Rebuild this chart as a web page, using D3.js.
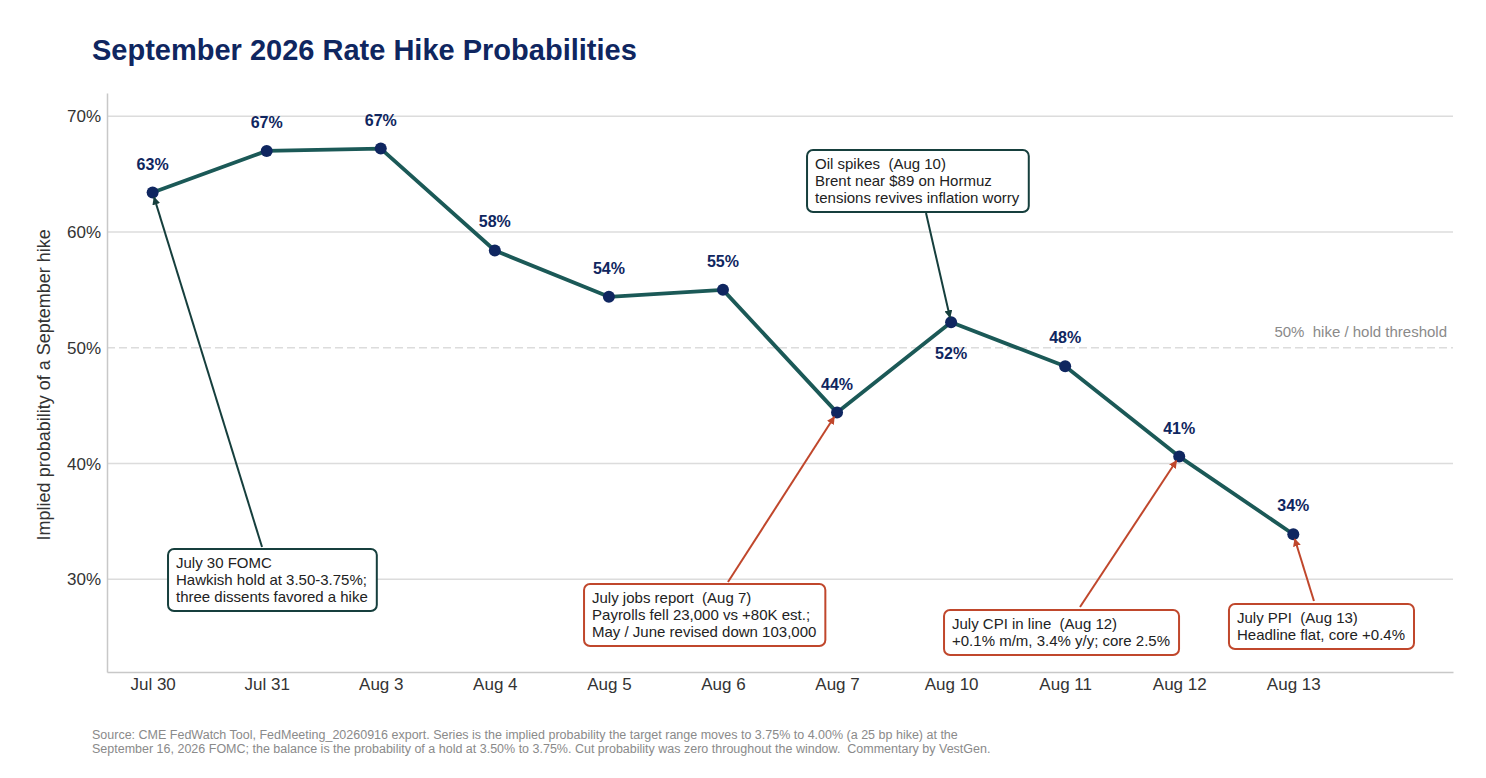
<!DOCTYPE html>
<html>
<head>
<meta charset="utf-8">
<script src="https://cdn.jsdelivr.net/npm/d3@7"></script>
<style>
  body { margin: 0; background: #fff; }
  text { font-family: "Liberation Sans", Arial, sans-serif; white-space: pre; }
</style>
</head>
<body>
<div id="chart"></div>
<script>
//////////////////////////////////////////////////////
/////////////////////// Data /////////////////////////
//////////////////////////////////////////////////////

var dates = ["Jul 30", "Jul 31", "Aug 3", "Aug 4", "Aug 5", "Aug 6", "Aug 7", "Aug 10", "Aug 11", "Aug 12", "Aug 13"];
var hikeProb = [63.4, 67.0, 67.2, 58.4, 54.4, 55.0, 44.4, 52.2, 48.4, 40.6, 33.9];
var yTicks = [30, 40, 50, 60, 70];
var labelBelow = ["Aug 10"];

//Annotations: box corner and arrow tail in data units (index, %)
var noteTitles = ["July 30 FOMC", "Oil spikes  (Aug 10)", "July jobs report  (Aug 7)", "July CPI in line  (Aug 12)", "July PPI  (Aug 13)"];
var noteLines = [
	["Hawkish hold at 3.50-3.75%;", "three dissents favored a hike"],
	["Brent near $89 on Hormuz", "tensions revives inflation worry"],
	["Payrolls fell 23,000 vs +80K est.;", "May / June revised down 103,000"],
	["+0.1% m/m, 3.4% y/y; core 2.5%"],
	["Headline flat, core +0.4%"]
];
var noteTarget = ["Jul 30", "Aug 10", "Aug 7", "Aug 12", "Aug 13"];
var noteTone = ["hawk", "hawk", "dove", "dove", "dove"];
var noteBox = [[0.135, 32.62], [5.737, 67.08], [3.782, 29.6], [6.938, 27.35], [9.436, 27.87]];
var noteTail = [[0.959, 32.79], [6.78, 61.64], [5.044, 29.77], [8.13, 27.61], [10.181, 28.13]];

var sourceLines = [
	"Source: CME FedWatch Tool, FedMeeting_20260916 export. Series is the implied probability the target range moves to 3.75% to 4.00% (a 25 bp hike) at the",
	"September 16, 2026 FOMC; the balance is the probability of a hold at 3.50% to 3.75%. Cut probability was zero throughout the window.  Commentary by VestGen."
];

//////////////////////////////////////////////////////
/////////////////////// Setup ////////////////////////
//////////////////////////////////////////////////////

var width = 1486, height = 778;
var margin = {left: 107, top: 93, right: 33, bottom: 106};

var navy = "#0f2660",
	teal = "#1b5957",
	hawkCol = "#163f3d",
	doveCol = "#c0472c";

var svg = d3.select("#chart").append("svg")
	.attr("width", width)
	.attr("height", height);

var x = d3.scaleLinear()
	.domain([-0.4, dates.length + 0.4])
	.range([margin.left, width - margin.right]);

var y = d3.scaleLinear()
	.domain([22, 72])
	.range([height - margin.bottom, margin.top]);

var defs = svg.append("defs");
[["hawk", hawkCol], ["dove", doveCol]].forEach(function(m) {
	defs.append("marker")
		.attr("id", "arrow-" + m[0])
		.attr("viewBox", "0 0 10 10")
		.attr("refX", 9)
		.attr("refY", 5)
		.attr("markerWidth", 8)
		.attr("markerHeight", 8)
		.attr("markerUnits", "userSpaceOnUse")
		.attr("orient", "auto")
		.append("path")
		.attr("d", "M0,0 L10,5 L0,10 z")
		.attr("fill", m[1]);
});

//Title
svg.append("text")
	.attr("x", 92)
	.attr("y", 60)
	.attr("fill", navy)
	.style("font-size", "29px")
	.style("font-weight", "bold")
	.text("September 2026 Rate Hike Probabilities");

//////////////////////////////////////////////////////
//////////////////////// Axes ////////////////////////
//////////////////////////////////////////////////////

//Gridlines
svg.append("g").selectAll("line")
	.data(yTicks)
	.enter().append("line")
	.attr("x1", margin.left)
	.attr("x2", width - margin.right)
	.attr("y1", function(d) { return y(d); })
	.attr("y2", function(d) { return y(d); })
	.style("stroke", "#dcdcdc")
	.style("stroke-width", 1.5)
	.style("stroke-dasharray", function(d) { return d === 50 ? "8,4" : null; });

var yAxis = svg.append("g")
	.attr("transform", "translate(" + margin.left + ",0)")
	.call(d3.axisLeft(y).tickValues(yTicks).tickSize(0).tickPadding(6).tickFormat(function(d) { return d + "%"; }));
yAxis.select(".domain").style("stroke", "#c8c8c8").style("stroke-width", 1.5);
yAxis.selectAll("text").style("font-size", "17px").attr("fill", "#333");

var xAxis = svg.append("g")
	.attr("transform", "translate(0," + (height - margin.bottom) + ")")
	.call(d3.axisBottom(x).tickValues(d3.range(dates.length)).tickSize(0).tickPadding(6).tickFormat(function(d) { return dates[d]; }));
xAxis.select(".domain").style("stroke", "#c8c8c8").style("stroke-width", 1.5);
xAxis.selectAll("text").style("font-size", "17px").attr("fill", "#333");

svg.append("text")
	.attr("transform", "translate(50," + y(46.8) + ") rotate(-90)")
	.style("text-anchor", "middle")
	.style("font-size", "18px")
	.attr("fill", "#333")
	.text("Implied probability of a September hike");

//Threshold label
svg.append("text")
	.attr("x", width - margin.right - 6)
	.attr("y", y(50) - 11)
	.style("text-anchor", "end")
	.style("font-size", "15px")
	.attr("fill", "#8a8a8a")
	.text("50%  hike / hold threshold");

//////////////////////////////////////////////////////
//////////////////////// Line ////////////////////////
//////////////////////////////////////////////////////

var line = d3.line()
	.x(function(d, i) { return x(i); })
	.y(function(d) { return y(d); });

svg.append("path")
	.datum(hikeProb)
	.attr("d", line)
	.attr("fill", "none")
	.style("stroke", teal)
	.style("stroke-width", 3.8)
	.style("stroke-linejoin", "round");

svg.append("g").selectAll("circle")
	.data(hikeProb)
	.enter().append("circle")
	.attr("cx", function(d, i) { return x(i); })
	.attr("cy", function(d) { return y(d); })
	.attr("r", 6)
	.attr("fill", navy);

svg.append("g").selectAll("text")
	.data(hikeProb)
	.enter().append("text")
	.attr("x", function(d, i) { return x(i); })
	.attr("y", function(d, i) { return y(d) + (labelBelow.indexOf(dates[i]) > -1 ? 37 : -23); })
	.style("text-anchor", "middle")
	.style("font-size", "16px")
	.style("font-weight", "bold")
	.attr("fill", navy)
	.text(function(d) { return Math.round(d) + "%"; });

//////////////////////////////////////////////////////
///////////////////// Annotations ////////////////////
//////////////////////////////////////////////////////

noteTitles.forEach(function(title, k) {
	var col = noteTone[k] === "hawk" ? hawkCol : doveCol;
	var idx = dates.indexOf(noteTarget[k]);
	var px = x(idx), py = y(hikeProb[idx]);
	var tx = x(noteTail[k][0]), ty = y(noteTail[k][1]);
	//stop the arrow just short of the point
	var dx = px - tx, dy = py - ty, len = Math.sqrt(dx*dx + dy*dy);
	svg.append("line")
		.attr("x1", tx).attr("y1", ty)
		.attr("x2", px - dx/len*5).attr("y2", py - dy/len*5)
		.style("stroke", col)
		.style("stroke-width", 2)
		.attr("marker-end", "url(#arrow-" + noteTone[k] + ")");

	var g = svg.append("g");
	var bx = x(noteBox[k][0]), by = y(noteBox[k][1]);
	var rect = g.append("rect");
	var txt = g.append("text")
		.style("font-size", "15px")
		.attr("fill", "#222");
	[title].concat(noteLines[k]).forEach(function(l, j) {
		txt.append("tspan").attr("x", bx + 8).attr("y", by + 19 + j*17).text(l);
	});
	var bb = txt.node().getBBox();
	rect.attr("x", bx).attr("y", by)
		.attr("width", bb.width + 17)
		.attr("height", (noteLines[k].length + 1)*17 + 11)
		.attr("rx", 6)
		.attr("fill", "#fff")
		.style("stroke", col)
		.style("stroke-width", 2);
});

//Source
svg.append("text")
	.style("font-size", "12.5px")
	.attr("fill", "#8a8a8a")
	.selectAll("tspan")
	.data(sourceLines)
	.enter().append("tspan")
	.attr("x", 92)
	.attr("y", function(d, i) { return 739 + i*14; })
	.text(function(d) { return d; });
</script>
</body>
</html>
